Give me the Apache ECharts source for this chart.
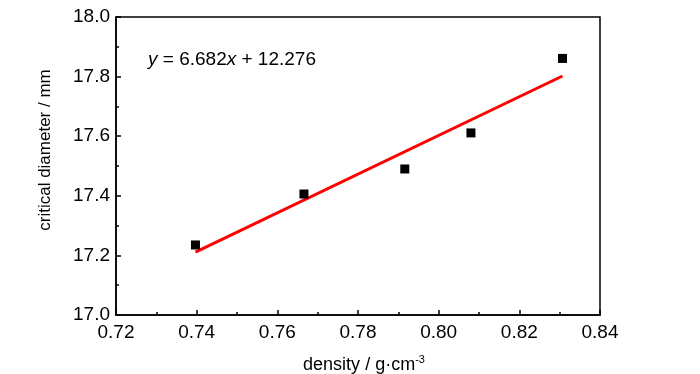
<!DOCTYPE html>
<html><head><meta charset="utf-8">
<script src="https://cdn.jsdelivr.net/npm/echarts@6/dist/echarts.min.js"></script>
<style>html,body{margin:0;padding:0;background:#fff}#c{width:700px;height:374px}</style>
</head><body><div id="c"></div>
<script>
const density = [0.7397, 0.7666, 0.7916, 0.8080, 0.8307];
const diameter = [17.235, 17.406, 17.490, 17.611, 17.861];
const fitX = [0.7397, 0.8307];
const fitY = [17.211, 17.802];
const xTicks = ['0.72','0.74','0.76','0.78','0.80','0.82','0.84'];
const yTicks = ['17.0','17.2','17.4','17.6','17.8','18.0'];

const FONT = '"Liberation Sans", Arial, sans-serif';
const chart = echarts.init(document.getElementById('c'), null, {renderer: 'canvas'});
chart.setOption({
  animation: false,
  backgroundColor: '#fff',
  grid: {left: 116, right: 100, top: 17, bottom: 59, containLabel: false, outerBoundsMode: 'none', show: true, borderColor: '#000', borderWidth: 1.5, backgroundColor: 'transparent'},
  xAxis: {
    type: 'value', min: 0.72, max: 0.84, interval: 0.02,
    axisLine: {show: true, onZero: false, lineStyle: {color: '#000', width: 1.5}},
    axisTick: {show: true, inside: true, length: 5, lineStyle: {color: '#000', width: 1.5}},
    minorTick: {show: true, splitNumber: 2, length: 3, lineStyle: {color: '#000', width: 1.5}},
    splitLine: {show: false},
    axisLabel: {color: '#000', fontFamily: FONT, fontSize: 19, margin: 8,
      formatter: v => xTicks[Math.round((v - 0.72) / 0.02)]},
    name: '{n|density / g·cm}{s|-3}', nameLocation: 'middle', nameGap: 39,
    nameTextStyle: {padding: [0, 0, 0, 12], rich: {n: {fontFamily: FONT, fontSize: 18, color: '#000'}, s: {fontFamily: FONT, fontSize: 11, color: '#000', verticalAlign: 'top', padding: [0,0,12,0]}}}
  },
  yAxis: {
    type: 'value', min: 17, max: 18, interval: 0.2,
    axisLine: {show: true, onZero: false, lineStyle: {color: '#000', width: 1.5}},
    axisTick: {show: true, inside: true, length: 5, lineStyle: {color: '#000', width: 1.5}},
    minorTick: {show: true, splitNumber: 2, length: 3, lineStyle: {color: '#000', width: 1.5}},
    splitLine: {show: false},
    axisLabel: {color: '#000', fontFamily: FONT, fontSize: 19, margin: 6,
      formatter: v => yTicks[Math.round((v - 17) / 0.2)]},
    name: 'critical diameter / mm', nameLocation: 'middle', nameGap: 62,
    nameTextStyle: {fontFamily: FONT, fontSize: 17, color: '#000', padding: [0, 0, 0, 32]}
  },
  graphic: [{
    type: 'text', left: 148, top: 50,
    style: {
      text: '{i|y}{n| = 6.682}{i|x}{n| + 12.276}',
      rich: {i: {fontFamily: FONT, fontSize: 19, fontStyle: 'italic', fill: '#000'}, n: {fontFamily: FONT, fontSize: 19, fill: '#000'}}
    }
  }],
  series: [
    {type: 'line', data: fitX.map((x, i) => [x, fitY[i]]), symbol: 'none', lineStyle: {color: '#f00', width: 3}, z: 2},
    {type: 'scatter', data: density.map((x, i) => [x, diameter[i]]), symbol: 'rect', symbolSize: 9, itemStyle: {color: '#000', opacity: 1}, z: 3}
  ]
});
</script></body></html>
